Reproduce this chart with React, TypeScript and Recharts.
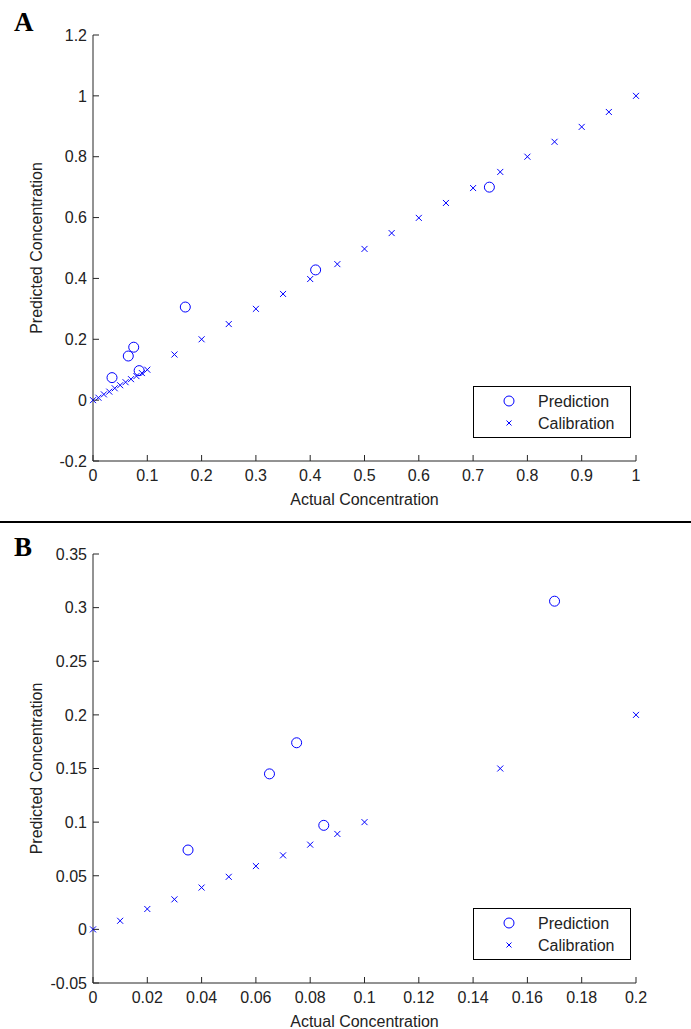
import React from 'react';
import { ScatterChart, Scatter, XAxis, YAxis } from 'recharts';

// calibration set (actual vs predicted)
const calActual = [
  0, 0.01, 0.02, 0.03, 0.04, 0.05, 0.06, 0.07, 0.08, 0.09, 0.1, 0.15, 0.2, 0.25, 0.3, 0.35, 0.4,
  0.45, 0.5, 0.55, 0.6, 0.65, 0.7, 0.75, 0.8, 0.85, 0.9, 0.95, 1,
];
const calPredicted = [
  0, 0.008, 0.019, 0.028, 0.039, 0.049, 0.059, 0.069, 0.079, 0.089, 0.1, 0.15, 0.2, 0.25, 0.3,
  0.349, 0.398, 0.447, 0.497, 0.549, 0.599, 0.648, 0.697, 0.75, 0.8, 0.849, 0.898, 0.947, 1,
];

// prediction set
const predActual = [0.035, 0.065, 0.075, 0.085, 0.17, 0.41, 0.73];
const predPredicted = [0.074, 0.145, 0.174, 0.097, 0.306, 0.428, 0.7];

// axis ticks
const ticksAx = [0, 0.1, 0.2, 0.3, 0.4, 0.5, 0.6, 0.7, 0.8, 0.9, 1];
const ticksAy = [-0.2, 0, 0.2, 0.4, 0.6, 0.8, 1, 1.2];
const ticksBx = [0, 0.02, 0.04, 0.06, 0.08, 0.1, 0.12, 0.14, 0.16, 0.18, 0.2];
const ticksBy = [-0.05, 0, 0.05, 0.1, 0.15, 0.2, 0.25, 0.3, 0.35];

const calData = calActual.map((x, i) => ({ x, y: calPredicted[i] }));
const predData = predActual.map((x, i) => ({ x, y: predPredicted[i] }));

const BLUE = '#0000ff';
const AXIS = '#262626';
const FONT = '"Liberation Sans", Arial, sans-serif';

const fmt = (v: number) => String(Number(v.toFixed(3)));

const XTick = (props: any) => {
  const { x, y, payload } = props;
  return (
    <g>
      <line x1={x} y1={y} x2={x} y2={y - 6} stroke={AXIS} strokeWidth={1} />
      <text x={x} y={y + 20} textAnchor="middle" fontFamily={FONT} fontSize={16} fill="#222">
        {fmt(payload.value)}
      </text>
    </g>
  );
};

const YTick = (props: any) => {
  const { x, y, payload } = props;
  return (
    <g>
      <line x1={x} y1={y} x2={x + 6} y2={y} stroke={AXIS} strokeWidth={1} />
      <text x={x - 6} y={y} dy="0.36em" textAnchor="end" fontFamily={FONT} fontSize={16} fill="#222">
        {fmt(payload.value)}
      </text>
    </g>
  );
};

const Circle = (props: any) => (
  <circle cx={props.cx} cy={props.cy} r={5} fill="none" stroke={BLUE} strokeWidth={1} />
);

const Cross = (props: any) => {
  const { cx, cy } = props;
  const d = 3;
  return (
    <path
      d={`M${cx - d},${cy - d}L${cx + d},${cy + d}M${cx - d},${cy + d}L${cx + d},${cy - d}`}
      stroke={BLUE}
      strokeWidth={1}
      fill="none"
    />
  );
};

const xTitle = (props: any) => {
  const vb = props.viewBox || {};
  return (
    <text
      x={vb.x + vb.width / 2}
      y={vb.y + 44}
      textAnchor="middle"
      fontFamily={FONT}
      fontSize={16}
      fill="#222"
    >
      Actual Concentration
    </text>
  );
};

const yTitle = (props: any) => {
  const vb = props.viewBox || {};
  const cy = vb.y + vb.height / 2;
  return (
    <text
      x={42}
      y={cy}
      transform={`rotate(-90 42 ${cy})`}
      textAnchor="middle"
      fontFamily={FONT}
      fontSize={16}
      fill="#222"
    >
      Predicted Concentration
    </text>
  );
};

function LegendBox({ top }: { top: number }) {
  return (
    <svg
      width={162}
      height={56}
      style={{ position: 'absolute', left: 471, top: top - 2 }}
    >
      <rect x={2.5} y={2.5} width={157} height={51} fill="#fff" stroke="#000" strokeWidth={1} />
      <circle cx={38} cy={17} r={5} fill="none" stroke={BLUE} strokeWidth={1} />
      <text x={67} y={23} fontFamily={FONT} fontSize={16} fill="#222">
        Prediction
      </text>
      <path d="M35.5,36.5L40.5,41.5M35.5,41.5L40.5,36.5" stroke={BLUE} strokeWidth={1} />
      <text x={67} y={45} fontFamily={FONT} fontSize={16} fill="#222">
        Calibration
      </text>
    </svg>
  );
}

interface PanelProps {
  height: number;
  top: number;
  xDomain: [number, number];
  yDomain: [number, number];
  xTicks: number[];
  yTicks: number[];
  xAxisHeight: number;
}

function Panel({ height, top, xDomain, yDomain, xTicks, yTicks, xAxisHeight }: PanelProps) {
  const inRange = (d: { x: number; y: number }) => d.x <= xDomain[1] + 1e-9 && d.y <= yDomain[1] + 1e-9;
  return (
    <ScatterChart width={691} height={height} margin={{ top, right: 55, bottom: 0, left: 0 }}>
      <XAxis
        type="number"
        dataKey="x"
        domain={xDomain}
        ticks={xTicks}
        interval={0}
        tickLine={false}
        tickSize={0}
        tickMargin={0}
        tick={<XTick />}
        height={xAxisHeight}
        axisLine={{ stroke: AXIS, strokeWidth: 1 }}
        label={{ content: xTitle }}
      />
      <YAxis
        type="number"
        dataKey="y"
        domain={yDomain}
        ticks={yTicks}
        interval={0}
        tickLine={false}
        tickSize={0}
        tickMargin={0}
        tick={<YTick />}
        width={93}
        axisLine={{ stroke: AXIS, strokeWidth: 1 }}
        label={{ content: yTitle }}
      />
      <Scatter data={calData.filter(inRange)} shape={<Cross />} isAnimationActive={false} />
      <Scatter data={predData.filter(inRange)} shape={<Circle />} isAnimationActive={false} />
    </ScatterChart>
  );
}

export default function App() {
  return (
    <div style={{ position: 'absolute', left: 0, top: 0, width: 691, height: 1029, background: '#fff' }}>
      <div style={{ position: 'absolute', left: 0, top: 0 }}>
        <Panel
          height={521}
          top={35}
          xDomain={[0, 1]}
          yDomain={[-0.2, 1.2]}
          xTicks={ticksAx}
          yTicks={ticksAy}
          xAxisHeight={60}
        />
      </div>
      <div style={{ position: 'absolute', left: 0, top: 521 }}>
        <Panel
          height={508}
          top={33}
          xDomain={[0, 0.2]}
          yDomain={[-0.05, 0.35]}
          xTicks={ticksBx}
          yTicks={ticksBy}
          xAxisHeight={46}
        />
      </div>
      <LegendBox top={386} />
      <LegendBox top={908} />
      <div style={{ position: 'absolute', left: 0, top: 521, width: 691, height: 2, background: '#000' }} />
      <div
        style={{
          position: 'absolute',
          left: 14,
          top: 5,
          fontFamily: '"Liberation Serif", "Times New Roman", serif',
          fontWeight: 'bold',
          fontSize: 27,
          lineHeight: '34px',
        }}
      >
        A
      </div>
      <div
        style={{
          position: 'absolute',
          left: 14,
          top: 530,
          fontFamily: '"Liberation Serif", "Times New Roman", serif',
          fontWeight: 'bold',
          fontSize: 27,
          lineHeight: '34px',
        }}
      >
        B
      </div>
    </div>
  );
}
